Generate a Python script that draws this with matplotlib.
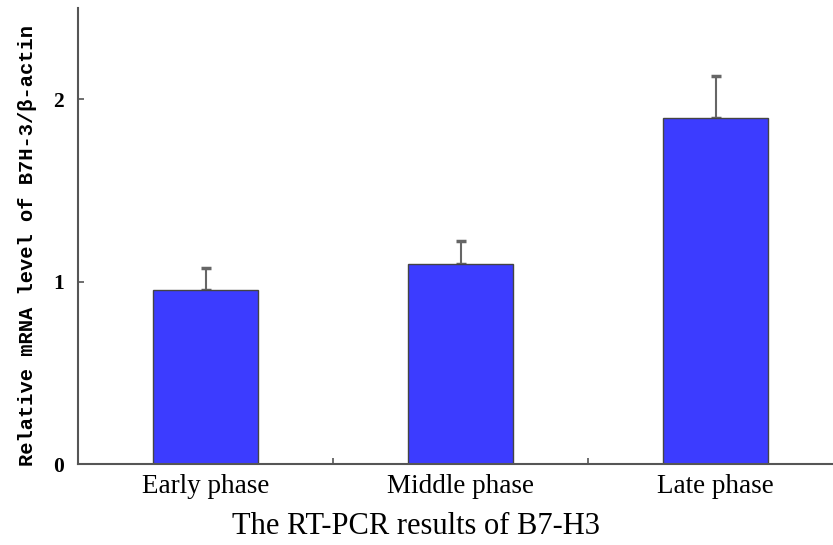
import matplotlib

matplotlib.use("Agg")
import matplotlib.pyplot as plt

phases = ["Early phase", "Middle phase", "Late phase"]
means = [0.955, 1.097, 1.896]
errors = [0.118, 0.127, 0.233]
y_ticks = [0, 1, 2]

bar_color = "#3c3cff"
axis_color = "#555555"

fig = plt.figure(figsize=(8.33, 5.45), dpi=100)
ax = fig.add_axes([0.0936, 0.1486, 0.9064, 0.8364])

x = list(range(len(phases)))
ax.bar(x, means, width=0.41, color=bar_color, edgecolor="#444444", linewidth=1.0, zorder=2)
ax.errorbar(x, means, yerr=[[0] * len(errors), errors], fmt="none",
            ecolor="#666666", elinewidth=1.5, capsize=3.5, capthick=2.5, zorder=1)

ax.set_xlim(-0.5, 2.46)
ax.set_ylim(0, 2.5)

for side in ("top", "right"):
    ax.spines[side].set_visible(False)
for side in ("left", "bottom"):
    ax.spines[side].set_color(axis_color)
    ax.spines[side].set_linewidth(1.5)

ax.set_xticks(x)
ax.set_xticklabels(phases, family="Liberation Serif", fontsize=19.5)
ax.set_xticks([0.5, 1.5], minor=True)
ax.tick_params(axis="x", which="major", length=0, pad=7)
ax.tick_params(axis="x", which="minor", direction="in", length=4, width=1.2, color=axis_color)

ax.set_yticks(y_ticks)
ax.set_yticklabels([str(t) for t in y_ticks], family="Liberation Serif",
                   fontweight="bold", fontsize=15.5)
ax.tick_params(axis="y", direction="in", length=4, width=1.2, color=axis_color, pad=10)

ax.set_xlabel("The RT-PCR results of B7-H3", family="Liberation Serif", fontsize=22)
ax.xaxis.set_label_coords(0.448, -0.105)
ax.set_ylabel("Relative mRNA level of B7H-3/\u03b2-actin", family="Liberation Mono",
              fontweight="bold", fontsize=14.8)
ax.yaxis.set_label_coords(-0.054, 0.48)

fig.savefig("out.png", dpi=100)
plt.close(fig)
